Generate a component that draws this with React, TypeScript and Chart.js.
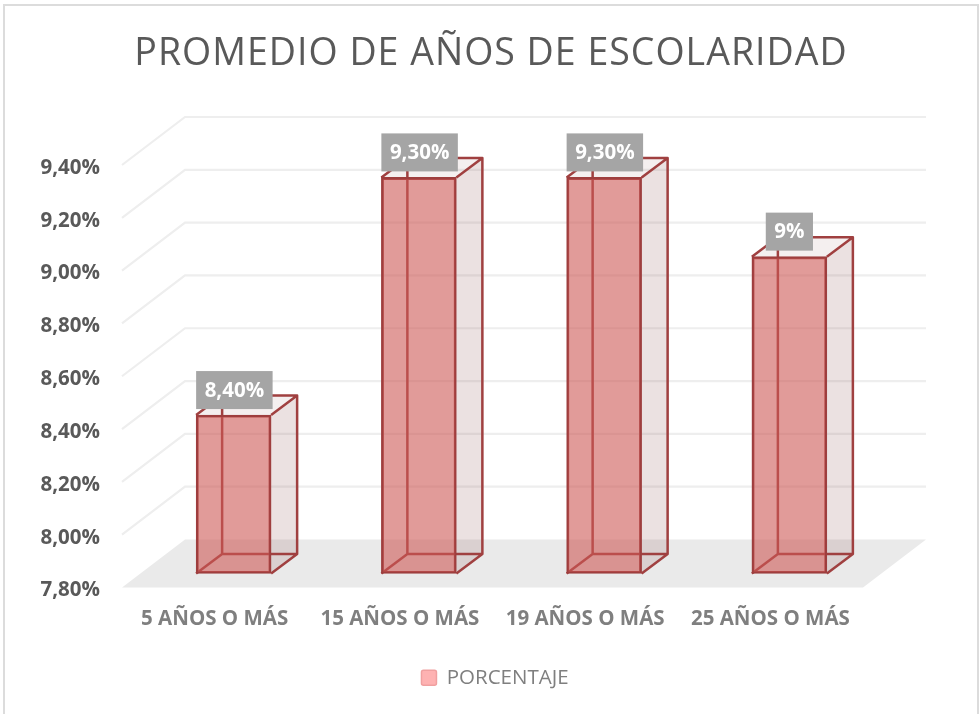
import React, { useEffect, useRef } from "react";
import { Chart, registerables } from "chart.js";

Chart.register(...registerables);

const categories = ["5 AÑOS O MÁS", "15 AÑOS O MÁS", "19 AÑOS O MÁS", "25 AÑOS O MÁS"];
const porcentaje = [8.4, 9.3, 9.3, 9.0];
const dataLabels = ["8,40%", "9,30%", "9,30%", "9%"];
const FONT = "'Open Sans', sans-serif";

const DEPTH_X = 63;
const DEPTH_Y = 48;
const BAR_SHIFT_X = 19;
const BAR_SHIFT_Y = 14;
const BAR_DEPTH_X = 26;
const BAR_DEPTH_Y = 19.5;
const TITLE_SPACING = "1px";
const LEGEND_SHIFT_X = 4;
const LEGEND_SHIFT_Y = 8;

const scene3d = {
  id: "scene3d",
  afterLayout(chart: any) {
    const { ctx } = chart;
    const title = chart.titleBlock;
    if (title && !title.__wrapped) {
      const draw = title.draw;
      title.draw = function () {
        ctx.save();
        ctx.letterSpacing = TITLE_SPACING;
        draw.call(title);
        ctx.restore();
      };
      title.__wrapped = true;
    }
    const legend = chart.legend;
    if (legend && !legend.__wrapped) {
      const draw = legend.draw;
      legend.draw = function () {
        ctx.save();
        ctx.translate(LEGEND_SHIFT_X, LEGEND_SHIFT_Y);
        draw.call(legend);
        ctx.restore();
      };
      legend.__wrapped = true;
    }
  },
  beforeDatasetsDraw(chart: any) {
    const { ctx, chartArea: a, scales } = chart;
    const y = scales.y;
    ctx.save();
    // floor
    ctx.fillStyle = "#EAEAEA";
    ctx.beginPath();
    ctx.moveTo(a.left, a.bottom);
    ctx.lineTo(a.left + DEPTH_X, a.bottom - DEPTH_Y);
    ctx.lineTo(a.right + DEPTH_X, a.bottom - DEPTH_Y);
    ctx.lineTo(a.right, a.bottom);
    ctx.closePath();
    ctx.fill();
    // gridlines on side wall and back wall
    ctx.strokeStyle = "#EEEEEE";
    ctx.lineWidth = 2.2;
    y.ticks.forEach((t: any) => {
      if (t.value <= y.min + 1e-6) return;
      const py = y.getPixelForValue(t.value);
      ctx.beginPath();
      ctx.moveTo(a.left, py);
      ctx.lineTo(a.left + DEPTH_X, py - DEPTH_Y);
      ctx.lineTo(a.right + DEPTH_X, py - DEPTH_Y);
      ctx.stroke();
    });
    // hidden faces of each bar
    const meta = chart.getDatasetMeta(0);
    meta.data.forEach((bar: any) => {
      const l = bar.x - bar.width / 2 + BAR_SHIFT_X;
      const r = bar.x + bar.width / 2 + BAR_SHIFT_X;
      const t = bar.y - BAR_SHIFT_Y;
      const b = bar.base - BAR_SHIFT_Y;
      const dx = BAR_DEPTH_X;
      const dy = BAR_DEPTH_Y;
      ctx.fillStyle = "rgba(150,95,95,0.19)";
      // right side
      ctx.beginPath();
      ctx.moveTo(r, t);
      ctx.lineTo(r + dx, t - dy);
      ctx.lineTo(r + dx, b - dy);
      ctx.lineTo(r, b);
      ctx.closePath();
      ctx.fill();
      // top
      ctx.fillStyle = "rgba(150,95,95,0.10)";
      ctx.beginPath();
      ctx.moveTo(l, t);
      ctx.lineTo(l + dx, t - dy);
      ctx.lineTo(r + dx, t - dy);
      ctx.lineTo(r, t);
      ctx.closePath();
      ctx.fill();
      // edges
      ctx.strokeStyle = "#A04040";
      ctx.lineWidth = 2.5;
      ctx.lineJoin = "round";
      ctx.beginPath();
      ctx.moveTo(l, t);
      ctx.lineTo(l + dx, t - dy);
      ctx.lineTo(r + dx, t - dy);
      ctx.lineTo(r, t);
      ctx.moveTo(r + dx, t - dy);
      ctx.lineTo(r + dx, b - dy);
      ctx.lineTo(r, b);
      ctx.moveTo(l, b);
      ctx.lineTo(l + dx, b - dy);
      ctx.lineTo(r + dx, b - dy);
      ctx.moveTo(l + dx, b - dy);
      ctx.lineTo(l + dx, t - dy);
      ctx.stroke();
    });
    ctx.restore();
    // front faces: the library's bars, moved into the floor
    ctx.save();
    ctx.translate(BAR_SHIFT_X, -BAR_SHIFT_Y);
  },
  afterDatasetsDraw(chart: any) {
    const { ctx } = chart;
    ctx.restore();
    ctx.save();
    const meta = chart.getDatasetMeta(0);
    ctx.font = `bold 20.5px ${FONT}`;
    ctx.textAlign = "center";
    ctx.textBaseline = "middle";
    meta.data.forEach((bar: any, i: number) => {
      const text = dataLabels[i];
      const w = ctx.measureText(text).width + 17;
      const l = bar.x - bar.width / 2 + BAR_SHIFT_X;
      const cx = i === 3 ? bar.x + BAR_SHIFT_X : l + w / 2;
      const bottom = bar.y - BAR_SHIFT_Y - 6;
      ctx.fillStyle = "#A5A5A5";
      ctx.fillRect(cx - w / 2, bottom - 38, w, 38);
      ctx.fillStyle = "#FFFFFF";
      ctx.fillText(text, cx, bottom - 18);
    });
    ctx.restore();
  },
};

export default function App() {
  const ref = useRef<HTMLCanvasElement>(null);
  useEffect(() => {
    const chart = new Chart(ref.current!, {
      type: "bar",
      data: {
        labels: categories,
        datasets: [
          {
            label: "PORCENTAJE",
            data: porcentaje,
            base: 7.8,
            backgroundColor: "rgba(205,88,85,0.6)",
            borderColor: "#9E3E3E",
            borderWidth: 2.2,
            borderSkipped: false,
            barThickness: 75,
            clip: false,
            yAxisID: "y",
          } as any,
        ],
      },
      options: {
        animation: false,
        responsive: false,
        layout: { padding: { left: 3, right: 0, top: 0, bottom: 24 } },
        scales: {
          x: {
            grid: { display: false, drawTicks: false },
            border: { display: false },
            ticks: {
              color: "#7F7F7F",
              font: { family: FONT, size: 20.5, weight: "bold" },
              padding: 19,
              maxRotation: 0,
            },
            afterFit(s: any) {
              s.height = 62;
            },
          },
          y: {
            min: 7.8,
            max: 9.4,
            grid: { display: false, drawTicks: false },
            border: { display: false },
            ticks: {
              stepSize: 0.2,
              color: "#595959",
              font: { family: FONT, size: 20.5, weight: "bold" },
              padding: 22,
              labelOffset: 3,
              callback: (v: any) => Number(v).toFixed(2).replace(".", ",") + "%",
            },
            afterFit(s: any) {
              s.width = 119;
            },
          },
          y2: {
            position: "right",
            grid: { display: false, drawTicks: false },
            border: { display: false },
            ticks: { display: false },
            afterFit(s: any) {
              s.width = 116;
            },
          },
        },
        plugins: {
          title: {
            display: true,
            text: "PROMEDIO DE AÑOS DE ESCOLARIDAD",
            color: "#595959",
            font: { family: FONT, size: 37.5, weight: "normal", lineHeight: 1.2 },
            padding: { top: 32, bottom: 88 },
          },
          legend: {
            position: "bottom",
            labels: {
              color: "#7F7F7F",
              font: { family: FONT, size: 20.5 },
              boxWidth: 15,
              boxHeight: 15,
              useBorderRadius: true,
              borderRadius: 2,
              generateLabels: () => [
                {
                  text: "PORCENTAJE",
                  fillStyle: "#FEB2B2",
                  strokeStyle: "#F0A0A0",
                  lineWidth: 1.5,
                  fontColor: "#7F7F7F",
                  borderRadius: 2,
                  datasetIndex: 0,
                },
              ],
            },
          },
          tooltip: { enabled: false },
        },
      },
      plugins: [scene3d],
    });
    return () => chart.destroy();
  }, []);
  return (
    <div style={{ position: "fixed", left: 0, top: 0, width: 979, height: 714, background: "#fff", overflow: "hidden" }}>
      <canvas ref={ref} width={979} height={714} style={{ display: "block", width: 979, height: 714 }} />
      <div style={{ position: "absolute", left: 3, top: 4, bottom: 0, width: 2, background: "#DCDCDC" }} />
      <div style={{ position: "absolute", right: 0, top: 4, bottom: 0, width: 2, background: "#DCDCDC" }} />
      <div style={{ position: "absolute", left: 3, right: 0, top: 4, height: 2, background: "#DCDCDC" }} />
    </div>
  );
}
